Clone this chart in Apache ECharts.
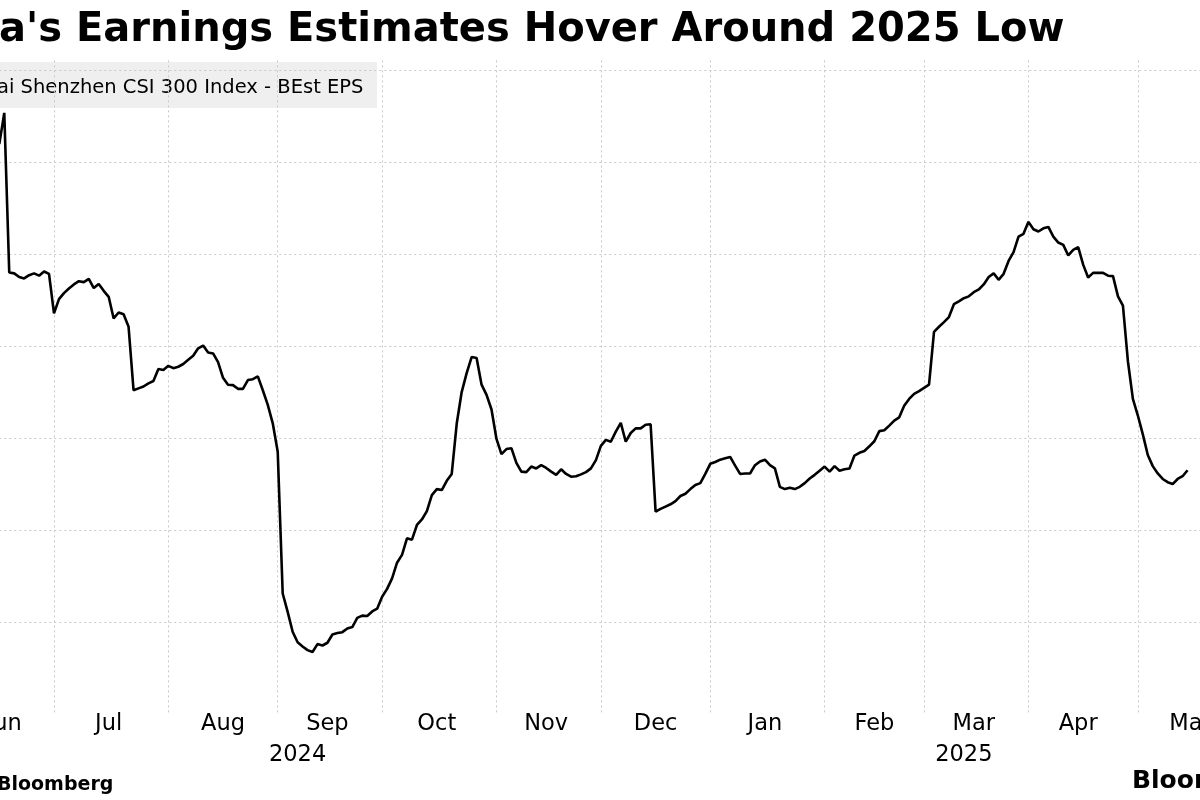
<!DOCTYPE html>
<html>
<head>
<meta charset="utf-8">
<script src="https://cdn.jsdelivr.net/npm/echarts@6/dist/echarts.min.js"></script>
<style>
html,body{margin:0;padding:0;background:#ffffff;}
#chart{width:1200px;height:800px;}
</style>
</head>
<body>
<div id="chart"></div>
<script>
// ---------------- DATA ----------------
const titleText = "China's Earnings Estimates Hover Around 2025 Low";
const seriesName = 'Shanghai Shenzhen CSI 300 Index - BEst EPS';
const sourceText = 'Bloomberg';
const logoText = 'Bloomberg';

// weekday categories (trading-calendar axis, weekends excluded)
const startDate = '2024-06-14';
const endDate = '2025-05-23';

// BEst EPS, one value per weekday from 2024-06-14 to 2025-05-15
const epsValues = [
308.40, 309.08, 305.61, 305.59, 305.51, 305.48, 305.55, 305.59, 305.54, 305.63, 305.58,
304.72, 305.03, 305.16, 305.26, 305.35, 305.42, 305.40, 305.47, 305.27, 305.36,
305.21, 305.08, 304.61, 304.74, 304.70, 304.43, 303.05, 303.09, 303.13, 303.20,
303.25, 303.51, 303.49, 303.58, 303.53, 303.56, 303.62, 303.71, 303.80, 303.96,
304.02, 303.87, 303.85, 303.66, 303.32, 303.17, 303.16, 303.08, 303.08, 303.27,
303.29, 303.35, 303.05, 302.73, 302.33, 301.71, 298.63, 298.23, 297.80, 297.57,
297.48, 297.40, 297.36, 297.53, 297.50, 297.56, 297.74, 297.77, 297.79, 297.87,
297.90, 298.10, 298.15, 298.14, 298.24, 298.30, 298.56, 298.73, 298.96, 299.30,
299.47, 299.83, 299.80, 300.12, 300.24, 300.42, 300.77, 300.90, 300.88, 301.08,
301.23, 302.32, 303.01, 303.42, 303.77, 303.75, 303.17, 302.95, 302.63, 301.99,
301.66, 301.77, 301.79, 301.47, 301.28, 301.27, 301.39, 301.35, 301.42, 301.36,
301.28, 301.21, 301.33, 301.23, 301.17, 301.18, 301.22, 301.27, 301.35, 301.53,
301.84, 301.97, 301.93, 302.15, 302.34, 301.93, 302.12, 302.22, 302.22, 302.30,
302.31, 300.41, 300.47, 300.52, 300.57, 300.64, 300.75, 300.80, 300.90, 300.99,
301.03, 301.23, 301.45, 301.49, 301.54, 301.57, 301.60, 301.41, 301.23, 301.24,
301.24, 301.42, 301.50, 301.54, 301.42, 301.35, 300.95, 300.90, 300.93, 300.90,
300.95, 301.03, 301.13, 301.21, 301.30, 301.39, 301.28, 301.40, 301.30, 301.33,
301.35, 301.63, 301.69, 301.73, 301.83, 301.94, 302.16, 302.18, 302.28, 302.39,
302.46, 302.71, 302.86, 302.97, 303.03, 303.10, 303.17, 304.32, 304.43, 304.53,
304.64, 304.92, 304.98, 305.05, 305.09, 305.18, 305.24, 305.35, 305.51, 305.59,
305.45, 305.58, 305.86, 306.05, 306.39, 306.45, 306.71, 306.55, 306.50, 306.57,
306.60, 306.39, 306.26, 306.21, 305.98, 306.10, 306.16, 305.78, 305.50, 305.60,
305.60, 305.60, 305.54, 305.53, 305.09, 304.89, 303.68, 302.86, 302.50, 302.09,
301.64, 301.40, 301.24, 301.12, 301.05, 301.01, 301.12, 301.18, 301.31
];

// month boundaries (first weekday of each month) -> vertical grid lines
const monthStartDates = ['2024-07-01','2024-08-01','2024-09-02','2024-10-01','2024-11-01','2024-12-02',
                         '2025-01-01','2025-02-03','2025-03-03','2025-04-01','2025-05-01'];
// month tick labels (placed mid-month)
const monthLabelDates = ['2024-06-17','2024-07-16','2024-08-16','2024-09-16','2024-10-16','2024-11-15',
                         '2024-12-17','2025-01-16','2025-02-17','2025-03-17','2025-04-15','2025-05-16'];
const monthLabelTexts = ['Jun','Jul','Aug','Sep','Oct','Nov','Dec','Jan','Feb','Mar','Apr','May'];
// year labels
const yearLabelDates = ['2024-09-06','2025-03-13'];
const yearLabelTexts = ['2024','2025'];

// y-axis scale
const yMin = 296, yMax = 310.22, yStep = 2;

// ---------------- BUILD ----------------
function weekdays(s, e) {
  const out = [];
  let d = new Date(s + 'T00:00:00Z');
  const end = new Date(e + 'T00:00:00Z');
  while (d <= end) {
    const w = d.getUTCDay();
    if (w !== 0 && w !== 6) out.push(d.toISOString().slice(0, 10));
    d = new Date(d.getTime() + 86400000);
  }
  return out;
}
const categories = weekdays(startDate, endDate);
const monthStartSet = new Set(monthStartDates);
const monthLabelMap = {};
monthLabelDates.forEach((d, i) => monthLabelMap[d] = monthLabelTexts[i]);
const yearLabelMap = {};
yearLabelDates.forEach((d, i) => yearLabelMap[d] = yearLabelTexts[i]);

const mctx = document.createElement('canvas').getContext('2d');
function textWidth(t, font) { mctx.font = font; return mctx.measureText(t).width; }

const titleFont = 'bold 40px "DejaVu Sans"';
const legendFont = '19.5px "DejaVu Sans"';
const sourceFont = 'bold 19px "DejaVu Sans"';
const logoFont = 'bold 25px "DejaVu Sans"';

const chart = echarts.init(document.getElementById('chart'), null, {renderer: 'canvas'});

const gridLine = {show: true, lineStyle: {color: '#c8c8c8', width: 1, type: [2, 3]}};

chart.setOption({
  animation: false,
  backgroundColor: '#ffffff',
  grid: {left: -0.7, right: -17.4, top: 60.4, bottom: 85.5, containLabel: false, outerBoundsMode: 'none'},
  xAxis: [{
    type: 'category',
    data: categories,
    boundaryGap: false,
    axisLine: {show: false},
    axisTick: {show: false},
    splitLine: Object.assign({}, gridLine, {interval: (i, v) => monthStartSet.has(v)}),
    axisLabel: {
      interval: (i, v) => monthLabelMap[v] !== undefined,
      formatter: v => monthLabelMap[v] || '',
      fontFamily: 'DejaVu Sans', fontSize: 22.5, color: '#000', margin: -2
    }
  }, {
    type: 'category',
    data: categories,
    boundaryGap: false,
    position: 'bottom',
    offset: 30,
    axisLine: {show: false},
    axisTick: {show: false},
    splitLine: {show: false},
    axisLabel: {
      interval: (i, v) => yearLabelMap[v] !== undefined,
      formatter: v => yearLabelMap[v] || '',
      fontFamily: 'DejaVu Sans', fontSize: 22.5, color: '#000', margin: -1
    }
  }],
  yAxis: {
    type: 'value',
    min: yMin, max: yMax, interval: yStep,
    position: 'right',
    axisLine: {show: false},
    axisTick: {show: false},
    axisLabel: {show: false},
    splitLine: Object.assign({}, gridLine, {showMinLine: false, showMaxLine: false})
  },
  series: [{
    name: seriesName,
    type: 'line',
    data: epsValues,
    showSymbol: false,
    symbol: 'none',
    lineStyle: {color: '#000000', width: 2.6},
    z: 3
  }],
  graphic: {
    z: 10,
    elements: [
      {type: 'text', x: -textWidth('Chin', titleFont) - 1, y: 31,
       style: {text: titleText, font: titleFont, fill: '#000', textVerticalAlign: 'middle', verticalAlign: 'middle'}},
      {type: 'rect', shape: {x: -10, y: 62, width: 387, height: 46},
       style: {fill: 'rgba(236,236,236,0.85)'}},
      {type: 'text', x: -textWidth('Shangh', legendFont) - 3, y: 88,
       style: {text: seriesName, font: legendFont, fill: '#000', textVerticalAlign: 'middle', verticalAlign: 'middle'}},
      {type: 'text', x: -3, y: 785,
       style: {text: sourceText, font: sourceFont, fill: '#000', textVerticalAlign: 'middle', verticalAlign: 'middle'}},
      {type: 'text', x: 1132, y: 781,
       style: {text: logoText, font: logoFont, fill: '#000', textVerticalAlign: 'middle', verticalAlign: 'middle'}}
    ]
  }
});
</script>
</body>
</html>
